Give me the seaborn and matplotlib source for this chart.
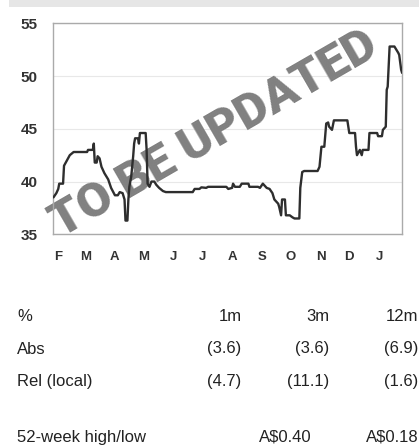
import matplotlib
matplotlib.use("Agg")
import matplotlib.pyplot as plt
import matplotlib.dates as mdates
from matplotlib.patches import Rectangle
import pandas as pd
import seaborn as sns

dates = [
    "2017-01-27", "2017-01-30", "2017-02-01", "2017-02-02", "2017-02-06", "2017-02-07",
    "2017-02-10", "2017-02-13", "2017-02-17", "2017-03-03", "2017-03-04", "2017-03-09",
    "2017-03-10", "2017-03-11", "2017-03-13", "2017-03-14", "2017-03-16", "2017-03-18",
    "2017-03-21", "2017-03-25", "2017-03-28", "2017-04-01", "2017-04-04", "2017-04-06",
    "2017-04-09", "2017-04-11", "2017-04-12", "2017-04-14", "2017-04-15", "2017-04-16",
    "2017-04-18", "2017-04-20", "2017-04-21", "2017-04-22", "2017-04-25", "2017-04-26",
    "2017-04-27", "2017-05-03", "2017-05-04", "2017-05-05", "2017-05-07", "2017-05-09",
    "2017-05-12", "2017-05-14", "2017-05-17", "2017-05-21", "2017-05-24", "2017-06-21",
    "2017-06-23", "2017-06-28", "2017-06-30", "2017-07-05", "2017-07-07", "2017-07-26",
    "2017-07-28", "2017-08-01", "2017-08-02", "2017-08-04", "2017-08-09", "2017-08-11",
    "2017-08-18", "2017-08-19", "2017-08-28", "2017-08-30", "2017-09-02", "2017-09-06",
    "2017-09-09", "2017-09-12", "2017-09-14", "2017-09-18", "2017-09-19", "2017-09-21",
    "2017-09-22", "2017-09-25", "2017-09-26", "2017-09-30", "2017-10-03", "2017-10-05",
    "2017-10-10", "2017-10-11", "2017-10-13", "2017-10-15", "2017-10-29", "2017-10-31",
    "2017-11-02", "2017-11-05", "2017-11-07", "2017-11-09", "2017-11-10", "2017-11-13",
    "2017-11-15", "2017-11-29", "2017-12-01", "2017-12-07", "2017-12-08", "2017-12-09",
    "2017-12-12", "2017-12-14", "2017-12-15", "2017-12-21", "2017-12-22", "2017-12-30",
    "2017-12-31", "2018-01-04", "2018-01-05", "2018-01-08", "2018-01-09", "2018-01-10",
    "2018-01-12", "2018-01-17", "2018-01-19", "2018-01-21", "2018-01-22", "2018-01-24",
    "2018-01-25",
]
prices = [
    38.5, 38.9, 39.3, 39.8, 39.8, 41.5,
    42.0, 42.5, 42.8, 42.8, 43.0, 43.0,
    43.6, 41.8, 41.8, 42.4, 42.2, 41.4,
    40.8, 40.2, 39.4, 38.7, 38.7, 39.0,
    38.9, 38.3, 36.3, 36.3, 38.3, 39.5,
    40.5, 42.4, 43.6, 44.1, 44.1, 43.6,
    44.6, 44.6, 43.0, 39.8, 39.5, 40.0,
    40.0, 39.7, 39.4, 39.1, 39.0, 39.0,
    39.3, 39.3, 39.45, 39.4, 39.5, 39.5,
    39.3, 39.4, 39.8, 39.5, 39.5, 39.8,
    39.8, 39.5, 39.5, 39.4, 39.8, 39.4,
    39.3, 38.9, 38.3, 37.9, 37.6, 36.8,
    38.3, 38.3, 36.8, 36.8, 36.6, 36.5,
    36.5, 39.4, 40.9, 41.0, 41.0, 41.4,
    43.3, 43.3, 45.5, 45.6, 45.2, 44.9,
    45.8, 45.8, 44.6, 44.6, 43.3, 42.5,
    43.0, 42.5, 43.0, 43.0, 44.6, 44.6,
    44.3, 44.3, 44.9, 45.2, 48.7, 49.0,
    52.8, 52.8, 52.5, 52.2, 52.0, 50.6,
    50.3,
]
yticks = [35, 40, 45, 50, 55]
month_labels = ["F", "M", "A", "M", "J", "J", "A", "S", "O", "N", "D", "J"]

table_header = ["%", "1m", "3m", "12m"]
table_abs = ["Abs", "(3.6)", "(3.6)", "(6.9)"]
table_rel = ["Rel (local)", "(4.7)", "(11.1)", "(1.6)"]
table_hilo = ["52-week high/low", "A$0.40", "A$0.18"]

df = pd.DataFrame({"date": pd.to_datetime(dates), "price": prices})

sns.set_theme(style="white")
plt.rcParams["font.family"] = ["Liberation Sans", "DejaVu Sans"]

W, H = 419, 448
fig = plt.figure(figsize=(W / 100, H / 100), dpi=100)
fig.patch.set_facecolor("white")

# top grey band
fig.patches.append(Rectangle((9 / W, 1 - 7 / H), 1, 7 / H, transform=fig.transFigure,
                             facecolor="#e6e6e6", edgecolor="none", zorder=0))

ax = fig.add_axes([53.3 / W, 1 - 234.3 / H, (401.7 - 53.3) / W, (234.3 - 23.3) / H])

sns.lineplot(data=df, x="date", y="price", ax=ax, color="#2e2e2e", linewidth=1.7,
             zorder=3, estimator=None)

ax.set_ylim(35, 55)
ax.set_yticks(yticks)
ax.set_xlim(pd.Timestamp("2017-01-26 20:00"), pd.Timestamp("2018-01-24 14:00"))
ax.xaxis.set_major_locator(mdates.MonthLocator())
ticks = ax.get_xticks()
ax.set_xticks(ticks)
ax.set_xticklabels(month_labels[:len(ticks)])
ax.set_xlabel("")
ax.set_ylabel("")

ax.yaxis.grid(True, color="#e8e8e8", linewidth=0.8)
ax.xaxis.grid(False)
ax.set_axisbelow(True)
for s in ax.spines.values():
    s.set_color("#aaaaaa")
    s.set_linewidth(1.0)

ax.tick_params(axis="y", direction="out", length=6.5, width=1, color="#888888", pad=5,
               labelsize=11, labelcolor="#333333")
ax.tick_params(axis="x", direction="out", length=6, width=1, color="#888888", pad=6,
               labelsize=9.5, labelcolor="#333333")
for lbl in ax.get_yticklabels() + ax.get_xticklabels():
    lbl.set_fontweight("bold")

# watermark
ax.text(214 / W, 1 - 134 / H, "TO BE UPDATED", transform=fig.transFigure, rotation=30,
        rotation_mode="anchor", ha="center", va="center", fontsize=35.5, fontweight=900,
        family=["Roboto", "Liberation Sans"],
        color="#808080", zorder=2, clip_on=False)

# table
tx = dict(fontsize=12, color="#222222")
col_right = [241.7 / W, 329.5 / W, 418.5 / W]
rows = [(table_header, 316), (table_abs, 349), (table_rel, 381)]
for row, yp in rows:
    fy = 1 - yp / H
    fig.text(17 / W, fy, row[0], ha="left", va="center", **tx)
    for c, val in enumerate(row[1:]):
        fig.text(col_right[c], fy, val, ha="right", va="center", **tx)
fy = 1 - 437 / H
fig.text(17 / W, fy, table_hilo[0], ha="left", va="center", **tx)
fig.text(312 / W, fy, table_hilo[1], ha="right", va="center", **tx)
fig.text(419 / W, fy, table_hilo[2], ha="right", va="center", **tx)

fig.savefig("out.png", dpi=100)
